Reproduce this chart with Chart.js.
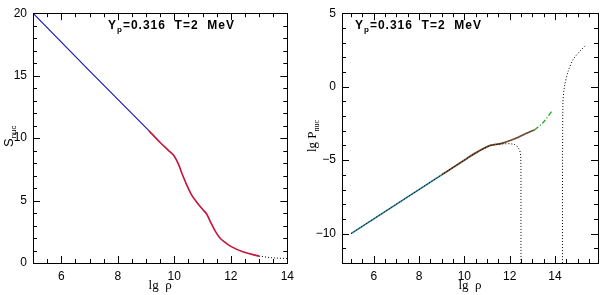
<!DOCTYPE html>
<html><head><meta charset="utf-8">
<script src="https://cdn.jsdelivr.net/npm/chart.js@4/dist/chart.umd.min.js"></script>
<style>
html,body{margin:0;padding:0;background:#fff;}
#wrap{position:relative;width:600px;height:295px;}
canvas{position:absolute;top:0;}
#c1{left:0;} #c2{left:300px;}
</style></head>
<body><div id="wrap"><canvas id="c1" width="300" height="295"></canvas><canvas id="c2" width="300" height="295"></canvas></div>
<script>
// ---- Left panel data (S_nuc vs lg rho) ----
const leftBlueX = [5, 7, 9.1];
const leftBlueY = [20, 15.38, 10.6];
const leftRedX = [9.1, 9.5, 9.8, 10.0, 10.15, 10.3, 10.45, 10.6, 10.8, 11.0, 11.15, 11.3, 11.45, 11.6, 11.8, 12.0, 12.45, 13.0];
const leftRedY = [10.6, 9.65, 9.0, 8.55, 7.9, 7.0, 6.2, 5.5, 4.85, 4.3, 3.9, 3.2, 2.55, 2.05, 1.65, 1.33, 0.88, 0.55];
const leftDotX = [13.0, 13.5, 14.0];
const leftDotY = [0.55, 0.41, 0.36];
const leftXTicks = [6, 8, 10, 12, 14];
const leftYTicks = [0, 5, 10, 15, 20];

// ---- Right panel data (lg P_nuc vs lg rho) ----
const rightTealX = [5, 9];
const rightTealY = [-10, -6];
const rightBrownX = [9, 10.1, 10.6, 11.15, 11.6, 12.2, 13.0, 13.1];
const rightBrownY = [-6, -4.9, -4.42, -4.0, -3.88, -3.56, -3.0, -2.95];
const rightGreenX = [13.1, 13.5, 13.86];
const rightGreenY = [-2.95, -2.4, -1.68];
const rightDot1X = [5, 9, 10.1, 10.6, 11.15, 11.6, 12.0, 12.2, 12.35, 12.45, 12.49, 12.5, 12.5];
const rightDot1Y = [-10, -6, -4.9, -4.42, -4.0, -3.9, -3.88, -3.92, -4.08, -4.35, -4.7, -5.5, -12];
const rightDot2X = [14.33, 14.35, 14.42, 14.59, 14.81, 15.1, 15.37];
const rightDot2Y = [-12, -1.2, 0, 1.08, 1.86, 2.41, 2.85];
const rightXTicks = [6, 8, 10, 12, 14];
const rightYTicks = [-10, -5, 0, 5];

const pts = (xs, ys) => xs.map((x, i) => ({x: x, y: ys[i]}));

Chart.defaults.font.family = "'Liberation Sans', Arial, sans-serif";
Chart.defaults.font.size = 12;
Chart.defaults.color = '#000';

function frameTicks(opts) {
  return {
    id: 'frameTicks',
    afterDraw(chart) {
      const ctx = chart.ctx, a = chart.chartArea;
      const xs = chart.scales.x, ys = chart.scales.y;
      ctx.save();
      ctx.strokeStyle = '#000';
      ctx.lineWidth = 1;
      ctx.strokeRect(Math.round(a.left) + 0.5, Math.round(a.top) + 0.5,
                     Math.round(a.right - a.left), Math.round(a.bottom - a.top));
      ctx.beginPath();
      for (let v = opts.xStart; v <= xs.max + 1e-9; v += opts.xMinor) {
        const p = Math.round(xs.getPixelForValue(v)) + 0.5;
        const major = Math.abs(v / opts.xMajor - Math.round(v / opts.xMajor)) < 1e-6;
        const L = major ? 7 : 4;
        ctx.moveTo(p, a.bottom); ctx.lineTo(p, a.bottom - L);
        ctx.moveTo(p, a.top); ctx.lineTo(p, a.top + L);
      }
      for (let v = opts.yStart; v <= ys.max + 1e-9; v += opts.yMinor) {
        const p = Math.round(ys.getPixelForValue(v)) + 0.5;
        const major = Math.abs(v / opts.yMajor - Math.round(v / opts.yMajor)) < 1e-6;
        const L = major ? 7 : 4;
        ctx.moveTo(a.left, p); ctx.lineTo(a.left + L, p);
        ctx.moveTo(a.right, p); ctx.lineTo(a.right - L, p);
      }
      ctx.stroke();
      opts.texts(ctx, a);
      ctx.restore();
    }
  };
}

function drawAnnot(ctx, x, y) {
  ctx.fillStyle = '#000';
  ctx.textBaseline = 'alphabetic';
  ctx.textAlign = 'left';
  ctx.letterSpacing = '1px';
  ctx.font = "bold 12px 'Liberation Sans', Arial, sans-serif";
  ctx.fillText('Y', x, y);
  let w = ctx.measureText('Y').width;
  ctx.font = "bold 8px 'Liberation Sans', Arial, sans-serif";
  ctx.fillText('p', x + w, y + 3);
  w += ctx.measureText('p').width;
  ctx.font = "bold 12px 'Liberation Sans', Arial, sans-serif";
  ctx.fillText('=0.316  T=2  MeV', x + w, y);
  ctx.letterSpacing = '0px';
}

function drawXTitle(ctx, cx, y) {
  ctx.fillStyle = '#000';
  ctx.textAlign = 'center';
  ctx.textBaseline = 'alphabetic';
  ctx.font = "13px 'Liberation Serif', 'Times New Roman', serif";
  ctx.fillText('lg  \u03C1', cx, y);
}

function baseScales(xmin, xmax, ymin, ymax, xt, yt, yWidth) {
  return {
    x: {
      type: 'linear', min: xmin, max: xmax,
      grid: {display: false, drawTicks: false}, border: {display: false},
      afterBuildTicks: s => { s.ticks = xt.map(v => ({value: v})); },
      afterFit: s => { s.height = 32; },
      ticks: {padding: 6, maxRotation: 0, autoSkip: false,
              callback: v => String(v).replace('-', '\u2212')}
    },
    y: {
      type: 'linear', min: ymin, max: ymax,
      grid: {display: false, drawTicks: false}, border: {display: false},
      afterBuildTicks: s => { s.ticks = yt.map(v => ({value: v})); },
      afterFit: s => { s.width = yWidth; },
      ticks: {padding: 6, autoSkip: false,
              callback: v => String(v).replace('-', '\u2212')}
    }
  };
}

const common = {
  responsive: false, animation: false, devicePixelRatio: 1,
  plugins: {legend: {display: false}, tooltip: {enabled: false}},
  elements: {point: {radius: 0}}
};

new Chart(document.getElementById('c1'), {
  type: 'line',
  data: {datasets: [
    {data: pts(leftDotX, leftDotY), borderColor: '#000', borderWidth: 1, borderDash: [1, 2], tension: 0.3},
    {data: pts(leftBlueX, leftBlueY), borderColor: '#1c1cb4', borderWidth: 1.2, tension: 0},
    {data: pts(leftRedX, leftRedY), borderColor: '#c4143c', borderWidth: 1.6, cubicInterpolationMode: 'monotone'}
  ]},
  options: Object.assign({}, common, {
    layout: {padding: {top: 7, right: 11, left: 0, bottom: 0}},
    scales: baseScales(5, 14, 0, 20, leftXTicks, leftYTicks, 33)
  }),
  plugins: [frameTicks({
    xStart: 5, xMinor: 0.5, xMajor: 2, yStart: 0, yMinor: 1, yMajor: 5,
    texts: (ctx, a) => {
      drawAnnot(ctx, 108, 29);
      drawXTitle(ctx, (a.left + a.right) / 2, 289);
      ctx.save();
      ctx.translate(13, 147);
      ctx.rotate(-Math.PI / 2);
      ctx.textAlign = 'left';
      ctx.font = "13px 'Liberation Sans', Arial, sans-serif";
      ctx.fillText('S', 0, 0);
      const w = ctx.measureText('S').width;
      ctx.font = "8px 'Liberation Sans', Arial, sans-serif";
      ctx.fillText('nuc', w, 3);
      ctx.restore();
    }
  })]
});

new Chart(document.getElementById('c2'), {
  type: 'line',
  data: {datasets: [
    {data: pts(rightDot1X, rightDot1Y), borderColor: '#000', borderWidth: 1, borderDash: [1, 2], tension: 0},
    {data: pts(rightDot2X, rightDot2Y), borderColor: '#000', borderWidth: 1, borderDash: [1, 2], tension: 0.3},
    {data: pts(rightTealX, rightTealY), borderColor: '#2a7f94', borderWidth: 1.6, tension: 0},
    {data: pts(rightBrownX, rightBrownY), borderColor: '#6e4a2e', borderWidth: 1.8, cubicInterpolationMode: 'monotone'},
    {data: pts(rightGreenX, rightGreenY), borderColor: '#22a82a', borderWidth: 1.3, borderDash: [5, 2, 1, 2], tension: 0.3}
  ]},
  options: Object.assign({}, common, {
    layout: {padding: {top: 7, right: 2, left: 0, bottom: 0}},
    scales: baseScales(4.6, 15.9, -12, 5, rightXTicks, rightYTicks, 42)
  }),
  plugins: [frameTicks({
    xStart: 5, xMinor: 0.5, xMajor: 2, yStart: -12, yMinor: 1, yMajor: 5,
    texts: (ctx, a) => {
      drawAnnot(ctx, 55, 29);
      drawXTitle(ctx, (a.left + a.right) / 2, 289);
      ctx.save();
      ctx.translate(16, 152);
      ctx.rotate(-Math.PI / 2);
      ctx.textAlign = 'left';
      ctx.font = "13px 'Liberation Serif', 'Times New Roman', serif";
      ctx.fillText('lg P', 0, 0);
      const w = ctx.measureText('lg P').width;
      ctx.font = "8px 'Liberation Serif', 'Times New Roman', serif";
      ctx.fillText('nuc', w, 3);
      ctx.restore();
    }
  })]
});
</script>
</body></html>
